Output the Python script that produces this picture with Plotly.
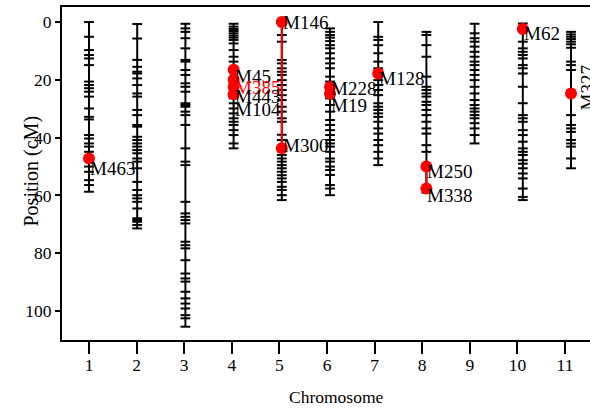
import plotly.graph_objects as go

# ---------------- data ----------------
chrom_numbers = [1, 2, 3, 4, 5, 6, 7, 8, 9, 10, 11]
tick_labels = ["1", "2", "3", "4", "5", "6", "7", "8", "9", "10", "11"]
y_ticks = [0, 20, 40, 60, 80, 100]

chr1 = [0, 5.1, 9.7, 11.4, 12.6, 14.9, 20.6, 21.8, 22.9, 24.1, 25.8, 29.9, 32.8, 33.7,
        39.1, 40.3, 42.0, 43.1, 44.9, 47.2, 50.0, 51.8, 54.7, 56.4, 58.7]
chr2 = [0.7, 5.7, 13.1, 15.5, 17.2, 17.8, 19.5, 21.8, 24.7, 25.8, 30.4, 32.2, 35.6, 36.2,
        39.7, 40.8, 42.0, 43.1, 44.3, 45.4, 47.2, 48.3, 50.6, 55.3, 58.1, 59.9, 61.0, 62.2,
        64.5, 67.9, 68.5, 69.1, 70.2, 71.4]
chr3 = [0.6, 2.2, 3.4, 5.6, 9.1, 13.1, 13.7, 16.6, 18.3, 21.2, 22.4, 24.1, 28.1, 28.7,
        29.3, 31.0, 32.2, 35.6, 43.7, 48.3, 49.5, 62.2, 66.2, 67.4, 68.5, 69.7, 76.0, 77.2,
        78.3, 82.4, 87.0, 88.7, 89.8, 93.3, 95.6, 97.4, 99.1, 101.4, 102.5, 105.4]
chr4 = [0.6, 1.6, 2.4, 3.1, 3.9, 4.7, 5.4, 6.2, 7.4, 9.7, 12.0, 13.7, 16.5, 20.0, 22.5,
        25.0, 26.4, 28.1, 29.9, 31.6, 33.3, 34.5, 35.6, 37.4, 39.1, 42.0, 43.7]
chr5 = [0, 4.5, 6.8, 13.1, 14.3, 16.0, 17.2, 18.3, 20.1, 21.8, 23.5, 25.3, 27.0, 29.3,
        31.0, 33.3, 34.5, 39.0, 40.8, 43.7, 46.0, 47.2, 48.3, 49.5, 50.6, 51.8, 53.0, 54.1,
        55.3, 57.0, 58.1, 59.9, 61.6]
chr6 = [2.2, 3.4, 4.5, 5.4, 6.6, 8.0, 9.1, 10.8, 12.6, 14.3, 16.0, 18.9, 20.6, 22.5, 24.8,
        26.4, 28.7, 31.0, 33.9, 35.6, 37.4, 39.1, 40.8, 42.0, 43.1, 44.9, 47.2, 48.3, 50.0,
        51.2, 52.9, 56.4, 57.6, 59.9]
chr7 = [0, 5.1, 6.2, 8.0, 10.8, 13.7, 16.0, 17.8, 20.1, 21.8, 23.5, 25.3, 28.1, 29.3,
        30.4, 31.6, 32.8, 34.5, 36.8, 38.6, 40.8, 42.6, 44.9, 47.2, 49.5]
chr8 = [3.4, 4.5, 8.0, 12.0, 18.9, 22.4, 23.5, 24.7, 25.8, 27.6, 28.7, 30.4, 32.2, 34.5,
        36.8, 38.6, 42.6, 44.9, 50.0, 57.6, 59.0]
chr9 = [0.6, 3.9, 5.6, 6.8, 8.5, 10.3, 12.0, 13.7, 14.9, 16.6, 18.3, 20.1, 22.4, 24.7,
        27.0, 28.7, 29.9, 31.0, 32.2, 33.3, 35.0, 36.8, 39.1, 42.0]
chr10 = [0.5, 2.4, 6.8, 9.1, 10.3, 11.4, 12.6, 14.9, 16.0, 17.8, 22.4, 28.1, 32.2, 33.3,
         34.5, 37.4, 39.1, 41.4, 43.7, 44.9, 46.0, 47.8, 49.0, 50.6, 52.4, 54.1, 57.6,
         60.5, 61.6]
chr11 = [3.4, 4.3, 5.1, 5.9, 6.8, 7.7, 8.9, 13.7, 14.9, 16.6, 24.7, 32.2, 35.6, 36.8,
         38.0, 40.8, 42.0, 43.1, 47.2, 50.6]
chromosomes = [chr1, chr2, chr3, chr4, chr5, chr6, chr7, chr8, chr9, chr10, chr11]

qtl_names = ["M463", "M45", "M385", "M443", "M104", "M146", "M300", "M228", "M19",
             "M128", "M250", "M338", "M62", "M327"]
qtl_chrom = [1, 4, 4, 4, 4, 5, 5, 6, 6, 7, 8, 8, 10, 11]
qtl_pos = [47.2, 16.5, 20.0, 22.5, 25.0, 0.0, 43.7, 22.5, 24.8, 17.8, 50.0, 57.6, 2.4, 24.7]

# ---------------- styles ----------------
FONT = "Liberation Serif"
RED = "#ff0000"
label_down_px = [10, 7, 8, 9, 15, 0, -3, 1, 12, 5, 5, 7, 5, -5]
label_colors = ["black", "black", RED, "black", "black", "black", "black", "black",
                "black", "black", "black", "black", "black", "black"]

fig = go.Figure()

# backbones
bx, by = [], []
for c, m in zip(chrom_numbers, chromosomes):
    bx += [c, c, None]
    by += [min(m), max(m), None]
fig.add_trace(go.Scatter(x=bx, y=by, mode="lines", line=dict(color="black", width=2),
                         hoverinfo="skip", showlegend=False))

# marker ticks
mx, my = [], []
for c, m in zip(chrom_numbers, chromosomes):
    mx += [c] * len(m)
    my += m
fig.add_trace(go.Scatter(x=mx, y=my, mode="markers",
                         marker=dict(symbol="line-ew", size=7,
                                     line=dict(color="black", width=2)),
                         hoverinfo="skip", showlegend=False))

# red QTL intervals
rx, ry = [], []
for c in chrom_numbers:
    ps = [p for q, p in zip(qtl_chrom, qtl_pos) if q == c]
    if len(ps) > 1:
        rx += [c, c, None]
        ry += [min(ps), max(ps), None]
fig.add_trace(go.Scatter(x=rx, y=ry, mode="lines", line=dict(color=RED, width=2),
                         hoverinfo="skip", showlegend=False))

# red QTL dots
fig.add_trace(go.Scatter(x=qtl_chrom, y=qtl_pos, mode="markers",
                         marker=dict(symbol="circle", size=12, color=RED),
                         hoverinfo="skip", showlegend=False))

# dummy trace on tick axis
fig.add_trace(go.Scatter(x=[], y=[], xaxis="x2", yaxis="y", showlegend=False))

# labels
for name, c, p, dy, col in zip(qtl_names, qtl_chrom, qtl_pos, label_down_px, label_colors):
    if name == "M327":
        fig.add_annotation(x=c, y=p, xref="x", yref="y", text=name, showarrow=False,
                           textangle=-90, xanchor="center", yanchor="middle",
                           xshift=16, yshift=5,
                           font=dict(family=FONT, size=19, color=col))
    else:
        fig.add_annotation(x=c, y=p, xref="x", yref="y", text=name, showarrow=False,
                           xanchor="left", yanchor="middle", xshift=-1, yshift=-dy,
                           font=dict(family=FONT, size=19, color=col))

# axis titles
fig.add_annotation(text="Chromosome", xref="paper", yref="paper", x=0.519, y=0,
                   xanchor="center", yanchor="middle", yshift=-57, showarrow=False,
                   font=dict(family=FONT, size=17.5, color="black"))
fig.add_annotation(text="Position (cM)", xref="paper", yref="paper", x=0, y=0.506,
                   xanchor="center", yanchor="middle", xshift=-30, textangle=-90,
                   showarrow=False, font=dict(family=FONT, size=20, color="black"))

fig.update_layout(
    width=590, height=408,
    margin=dict(l=62, r=0, t=7, b=68),
    paper_bgcolor="white", plot_bgcolor="white",
    showlegend=False,
    xaxis=dict(range=[0.4398, 11.394], visible=False, showgrid=False, zeroline=False),
    xaxis2=dict(range=[0.4328, 11.525], overlaying="x", side="bottom", anchor="y",
                tickmode="array", tickvals=chrom_numbers, ticktext=tick_labels,
                ticks="outside", ticklen=12, tickwidth=2, tickcolor="black",
                ticklabelstandoff=-4,
                showline=True, linewidth=2, linecolor="black", mirror=True,
                showgrid=False, zeroline=False,
                tickfont=dict(family=FONT, size=17.5, color="black")),
    yaxis=dict(range=[110, -5.2], tickmode="array", tickvals=y_ticks,
               ticks="outside", ticklen=5, tickwidth=2, tickcolor="black",
               showline=True, linewidth=2, linecolor="black",
               showgrid=False, zeroline=False,
               tickfont=dict(family=FONT, size=17.5, color="black")),
)

fig.write_html("out.html", config={"displayModeBar": False},
               post_script="document.body.style.margin='0';document.body.style.padding='0';")
